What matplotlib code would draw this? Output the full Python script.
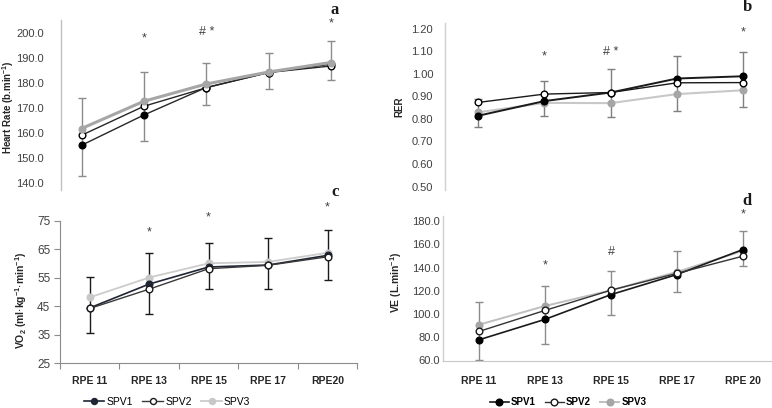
import matplotlib
matplotlib.use("Agg")
import matplotlib.pyplot as plt
import numpy as np

plt.rcParams['font.family'] = ['Liberation Sans', 'DejaVu Sans']

W, H = 772, 408

categories_top = ["RPE 11", "RPE 13", "RPE 15", "RPE 17", "RPE 20"]
categories_c = ["RPE 11", "RPE 13", "RPE 15", "RPE 17", "RPE20"]
categories_d = ["RPE 11", "RPE 13", "RPE 15", "RPE 17", "RPE 20"]
series = ["SPV1", "SPV2", "SPV3"]

# Panel a: Heart rate
hr_spv1 = [155.2, 167.3, 178.3, 184.3, 187.6]
hr_spv2 = [159.2, 170.8, 178.2, 184.3, 186.9]
hr_spv3 = [161.9, 172.8, 179.7, 184.5, 188.3]
hr_err_lo = [142.9, 156.9, 171.5, 177.7, 181.3]
hr_err_hi = [174.2, 184.4, 188.3, 192.0, 196.8]
hr_ticks = [140.0, 150.0, 160.0, 170.0, 180.0, 190.0, 200.0]

# Panel b: RER
rer_spv1 = [0.814, 0.879, 0.917, 0.979, 0.989]
rer_spv2 = [0.873, 0.910, 0.917, 0.960, 0.961]
rer_spv3 = [0.829, 0.871, 0.870, 0.910, 0.927]
rer_err_lo = [0.762, 0.814, 0.809, 0.836, 0.855]
rer_err_hi = [0.887, 0.967, 1.023, 1.078, 1.097]
rer_ticks = [0.50, 0.60, 0.70, 0.80, 0.90, 1.00, 1.10, 1.20]

# Panel c: VO2
vo2_spv1 = [44.4, 52.8, 58.8, 59.5, 62.9]
vo2_spv2 = [44.2, 51.0, 58.2, 59.4, 62.4]
vo2_spv3 = [48.1, 55.1, 60.1, 60.6, 63.8]
vo2_err_lo = [35.4, 42.1, 50.9, 51.2, 54.4]
vo2_err_hi = [55.3, 63.8, 67.3, 68.9, 71.8]
vo2_ticks = [25, 35, 45, 55, 65, 75]

# Panel d: VE
ve_spv1 = [77.8, 95.4, 116.7, 134.0, 155.5]
ve_spv2 = [85.0, 103.1, 120.5, 135.0, 149.8]
ve_spv3 = [90.8, 106.9, 120.4, 136.2, 154.4]
ve_err_lo = [60.8, 74.4, 98.8, 119.0, 141.2]
ve_err_hi = [110.0, 124.1, 136.8, 154.1, 171.6]
ve_ticks = [60.0, 80.0, 100.0, 120.0, 140.0, 160.0, 180.0]

# significance marks: (text, category index, y)
sig_a = [("*", 1, 198.1), ("# *", 2, 200.5), ("*", 4, 204.0)]
sig_b = [("*", 1, 1.077), ("# *", 2, 1.095), ("*", 4, 1.184)]
sig_c = [("*", 1, 70.8), ("*", 2, 76.4), ("*", 4, 79.9)]
sig_d = [("*", 1, 142.0), ("#", 2, 153.2), ("*", 4, 186.0)]

fig = plt.figure(figsize=(W / 100, H / 100), dpi=100)


def px_axes(l, t, r, b):
    return fig.add_axes([l / W, 1 - b / H, (r - l) / W, (b - t) / H])


def ft(x, y, s, **kw):
    fig.text(x / W, 1 - y / H, s, **kw)


x = np.arange(5)
MS = 4.8


def draw_err(ax, lo, hi, color):
    lo = np.array(lo); hi = np.array(hi)
    mid = (lo + hi) / 2
    ax.errorbar(x, mid, yerr=(hi - lo) / 2, fmt='none', ecolor=color,
                elinewidth=1.0, capsize=2.6, capthick=1.0, zorder=1)


def draw_sig(ax, sig, size=9):
    for s, i, yv in sig:
        ax.text(i, yv, s, ha='center', va='center', fontsize=size,
                color='#404040', clip_on=False)


def style_left(ax, color, pad):
    for sp in ['top', 'right']:
        ax.spines[sp].set_visible(False)
    ax.spines['left'].set_color(color)
    ax.spines['left'].set_linewidth(1.0)
    ax.tick_params(axis='y', labelsize=8, colors='#404040', length=0, pad=pad)
    ax.set_facecolor('none')


# ---------------- Panel a ----------------
ax_a = px_axes(61, 20, 362, 190)
draw_err(ax_a, hr_err_lo, hr_err_hi, '#8c8c8c')
ax_a.plot(x, hr_spv1, '-o', color='#262626', lw=1.0, ms=MS, mfc='black', mec='black', zorder=3)
ax_a.plot(x, hr_spv2, '-o', color='#262626', lw=1.0, ms=MS, mfc='white', mec='black', zorder=4)
ax_a.plot(x, hr_spv3, '-o', color='#a6a6a6', lw=2.2, ms=MS, mfc='#a6a6a6', mec='#a6a6a6', zorder=5)
ax_a.set_xlim(-0.33, 4.5)
ax_a.set_ylim(137.3, 205.3)
ax_a.set_yticks(hr_ticks)
ax_a.set_yticklabels([f"{t:.1f}" for t in hr_ticks])
ax_a.set_xticks([])
ax_a.spines['bottom'].set_visible(False)
style_left(ax_a, '#c0c0c0', 12.5)
draw_sig(ax_a, sig_a)

# ---------------- Panel b ----------------
ax_b = px_axes(445, 23, 771, 190)
draw_err(ax_b, rer_err_lo, rer_err_hi, '#7f7f7f')
ax_b.plot(x, rer_spv3, '-o', color='#c8c8c8', lw=1.5, ms=MS, mfc='#a6a6a6', mec='#a6a6a6', zorder=3)
ax_b.plot(x, rer_spv1, '-o', color='#1a1a1a', lw=1.4, ms=MS, mfc='black', mec='black', zorder=4)
ax_b.plot(x, rer_spv2, '-o', color='#1a1a1a', lw=1.0, ms=MS, mfc='white', mec='black', zorder=5)
ax_b.set_xlim(-0.5, 4.42)
ax_b.set_ylim(0.485, 1.225)
ax_b.set_yticks(rer_ticks)
ax_b.set_yticklabels([f"{t:.2f}" for t in rer_ticks])
ax_b.set_xticks([])
ax_b.spines['bottom'].set_visible(False)
style_left(ax_b, '#d0d0d0', 8.5)
draw_sig(ax_b, sig_b)

# ---------------- Panel c ----------------
ax_c = px_axes(60, 221, 357.3, 363)
draw_err(ax_c, vo2_err_lo, vo2_err_hi, '#1a1a1a')
l3c, = ax_c.plot(x, vo2_spv3, '-o', color='#cccccc', lw=1.3, ms=MS, mfc='#c8c8c8', mec='#c8c8c8', zorder=3)
l1c, = ax_c.plot(x, vo2_spv1, '-o', color='#1f2535', lw=1.2, ms=MS, mfc='#1f2535', mec='#1f2535', zorder=4)
l2c, = ax_c.plot(x, vo2_spv2, '-o', color='#3a3a3a', lw=1.0, ms=MS, mfc='white', mec='#1a1a1a', zorder=5)
ax_c.set_xlim(-0.5, 4.5)
ax_c.set_ylim(25, 75)
ax_c.set_yticks(vo2_ticks)
ax_c.set_yticklabels([str(t) for t in vo2_ticks])
for sp in ['top', 'right']:
    ax_c.spines[sp].set_visible(False)
for sp in ['left', 'bottom']:
    ax_c.spines[sp].set_color('#8c8c8c')
ax_c.tick_params(axis='y', labelsize=8.5, colors='#404040', length=4, color='#8c8c8c', pad=3)
ax_c.set_xticks(np.arange(-0.5, 5, 1.0))
ax_c.set_xticklabels([])
ax_c.tick_params(axis='x', which='major', length=4, color='#8c8c8c')
ax_c.set_xticks(x, minor=True)
ax_c.set_xticklabels(categories_c, minor=True, fontsize=7.5, fontweight='bold', color='#262626')
ax_c.tick_params(axis='x', which='minor', length=0, pad=9)
ax_c.set_facecolor('none')
draw_sig(ax_c, sig_c)

# ---------------- Panel d ----------------
ax_d = px_axes(443, 216.4, 772, 360.5)
draw_err(ax_d, ve_err_lo, ve_err_hi, '#8c8c8c')
l3d, = ax_d.plot(x, ve_spv3, '-o', color='#bfbfbf', lw=1.4, ms=MS, mfc='#a6a6a6', mec='#a6a6a6', zorder=3)
l1d, = ax_d.plot(x, ve_spv1, '-o', color='#1a1a1a', lw=1.2, ms=MS, mfc='black', mec='black', zorder=4)
l2d, = ax_d.plot(x, ve_spv2, '-o', color='#333333', lw=1.0, ms=MS, mfc='white', mec='#1a1a1a', zorder=5)
ax_d.set_xlim(-0.545, 4.44)
ax_d.set_ylim(60, 184)
ax_d.set_yticks(ve_ticks)
ax_d.set_yticklabels([f"{t:.1f}" for t in ve_ticks])
style_left(ax_d, '#d0d0d0', 2.5)
ax_d.spines['bottom'].set_color('#c8c8c8')
ax_d.set_xticks(x)
ax_d.set_xticklabels(categories_d, fontsize=7.5, fontweight='bold', color='#262626')
ax_d.tick_params(axis='x', length=0, pad=11)
draw_sig(ax_d, sig_d)

# ---------------- Axis titles ----------------
ft(8, 107, "Heart Rate (b.min$^{\\mathregular{-1}}$)", rotation=90, ha='center', va='center',
   fontsize=7, fontweight='bold', color='#262626')
ft(399, 107, "RER", rotation=90, ha='center', va='center', fontsize=7, fontweight='bold', color='#262626')
ft(21, 300, "VO$_{\\mathregular{2}}$ (ml$\\cdot$kg$^{\\mathregular{-1}}$$\\cdot$min$^{\\mathregular{-1}}$)",
   rotation=90, ha='center', va='center', fontsize=7.5, fontweight='bold', color='#262626')
ft(396, 282, "VE (L.min$^{\\mathregular{-1}}$)", rotation=90, ha='center', va='center',
   fontsize=7.5, fontweight='bold', color='#262626')

# ---------------- Panel letters ----------------
for lx, ly, s in [(335, 10, "a"), (747, 7, "b"), (335, 192, "c"), (747, 201, "d")]:
    ft(lx, ly, s, ha='center', va='center', fontsize=12, fontweight='bold',
       family=['Liberation Serif', 'DejaVu Serif'], color='#1a1a1a')

# ---------------- Legends ----------------
fig.legend([l1c, l2c, l3c], series, loc='center', bbox_to_anchor=(167 / W, 1 - 402 / H),
           ncol=3, frameon=False, fontsize=7.5, handlelength=2.0, handletextpad=0.2,
           columnspacing=0.9, markerscale=0.9)
fig.legend([l1d, l2d, l3d], series, loc='center', bbox_to_anchor=(568 / W, 1 - 402 / H),
           ncol=3, frameon=False, prop={'size': 7, 'weight': 'bold'}, handlelength=2.0,
           handletextpad=0.2, columnspacing=0.9, markerscale=1.0)

fig.savefig("out.png", dpi=100)
